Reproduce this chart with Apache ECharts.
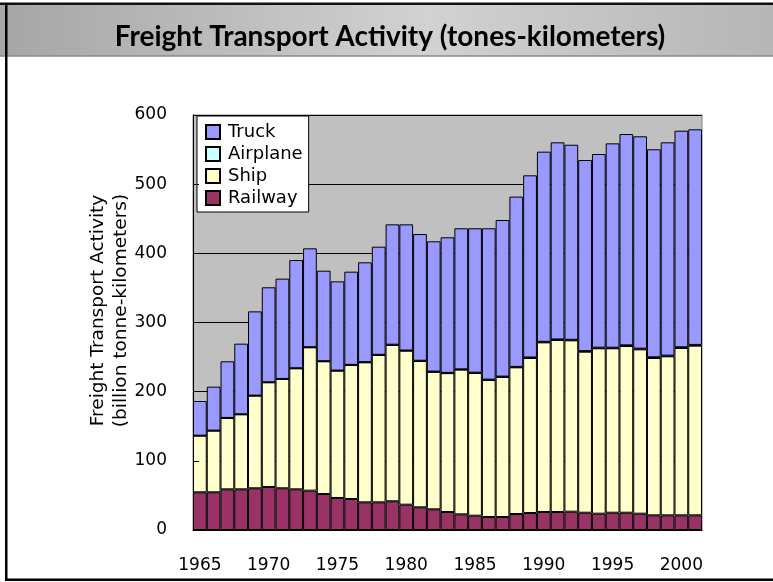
<!DOCTYPE html>
<html>
<head>
<meta charset="utf-8">
<title>Freight Transport Activity</title>
<script src="https://cdn.jsdelivr.net/npm/echarts@6/dist/echarts.min.js"></script>
<style>
    html, body { margin: 0; padding: 0; background: #fff; overflow: hidden; }
    #chart { width: 773px; height: 582px; }
</style>
</head>
<body>
<div id="chart"></div>
<script>
// values, billion tonne-kilometers
const years = ['1965', '1966', '1967', '1968', '1969', '1970', '1971', '1972', '1973', '1974',
    '1975', '1976', '1977', '1978', '1979', '1980', '1981', '1982', '1983', '1984',
    '1985', '1986', '1987', '1988', '1989', '1990', '1991', '1992', '1993', '1994',
    '1995', '1996', '1997', '1998', '1999', '2000', '2001'];

const railway = [54.5, 54.5, 58.8, 58.8, 60.3, 62.2, 60.3, 58.8, 56.9, 52.0,
    46.3, 44.8, 40.0, 40.0, 41.5, 36.6, 32.8, 29.9, 26.0, 22.6,
    20.7, 18.8, 18.8, 23.1, 24.6, 26.0, 26.0, 26.5, 25.0, 23.6,
    25.0, 25.0, 23.6, 21.2, 21.2, 21.2, 21.2];

const ship = [81.9, 89.1, 103.1, 108.4, 133.9, 151.3, 158.0, 174.9, 207.2, 191.9,
    184.0, 193.7, 202.4, 213.0, 226.0, 222.6, 211.5, 198.7, 200.8, 209.2,
    206.3, 198.1, 202.4, 212.1, 224.1, 245.3, 248.7, 247.7, 232.8, 239.1,
    237.7, 241.0, 237.6, 227.5, 229.9, 241.9, 245.3];

const airplane = [0.0, 0.1, 0.1, 0.1, 0.1, 0.1, 0.1, 0.2, 0.2, 0.2,
    0.2, 0.3, 0.3, 0.3, 0.4, 0.3, 0.4, 0.4, 0.4, 0.5,
    0.5, 0.5, 0.6, 0.6, 0.7, 0.8, 0.8, 0.8, 0.8, 0.9,
    0.9, 1.0, 1.0, 1.0, 1.0, 1.1, 1.1];

const truck = [50.1, 63.5, 81.9, 102.1, 121.8, 137.3, 145.0, 156.4, 142.9, 130.8,
    129.0, 134.7, 144.3, 156.3, 174.0, 182.4, 183.2, 188.4, 196.0, 203.9,
    208.7, 218.8, 226.4, 246.2, 263.4, 274.9, 285.0, 282.0, 276.3, 280.0,
    295.4, 305.5, 307.0, 300.7, 308.4, 313.1, 311.7];

const yTicks = { min: 0, max: 600, step: 100 };

const font = 'DejaVu Sans';

const barSeries = (name, data, color) => ({
    name,
    type: 'bar',
    stack: 'total',
    data,
    barCategoryGap: '0%',
    itemStyle: { color, borderColor: '#000', borderWidth: 1 }
});

const chart = echarts.init(document.getElementById('chart'));

chart.setOption({
    animation: false,
    backgroundColor: '#fff',
    textStyle: { fontFamily: font, color: '#000' },
    grid: {
        left: 193, right: 71, top: 115, bottom: 52,
        show: true,
        backgroundColor: '#c0c0c0',
        borderColor: '#808080',
        borderWidth: 1
    },
    legend: {
        orient: 'vertical',
        left: 197,
        top: 116,
        data: ['Truck', 'Airplane', 'Ship', 'Railway'],
        icon: 'rect',
        itemWidth: 14,
        itemHeight: 14,
        itemGap: 4,
        padding: [7, 6, 5, 8],
        backgroundColor: '#fff',
        borderColor: '#000',
        borderWidth: 1,
        borderRadius: 0,
        textStyle: { fontFamily: font, fontSize: 18, color: '#000', lineHeight: 18, padding: [0, 0, 0, 3] }
    },
    xAxis: {
        type: 'category',
        data: years,
        axisLine: { lineStyle: { color: '#000', width: 1 } },
        axisTick: { show: false },
        axisLabel: {
            interval: (i, v) => Number(v) % 5 === 0,
            margin: 27,
            fontFamily: font,
            fontSize: 17,
            color: '#000'
        },
        splitLine: { show: false }
    },
    yAxis: [{
        type: 'value',
        min: yTicks.min,
        max: yTicks.max,
        interval: yTicks.step,
        name: 'Freight Transport Activity\n(billion tonne-kilometers)',
        nameLocation: 'middle',
        nameRotate: 90,
        nameGap: 60,
        nameMoveOverlap: false,
        nameTextStyle: {
            fontFamily: font, fontSize: 18.5, lineHeight: 23.5, color: '#000',
            padding: [0, 0, 0, 24]
        },
        axisLine: { show: true, lineStyle: { color: '#000', width: 1 } },
        axisTick: { show: false },
        axisLabel: { margin: 26, fontFamily: font, fontSize: 17, color: '#000' },
        splitLine: { lineStyle: { color: '#000', width: 1 } }
    }, {
        // tick marks drawn over the bars, like the original
        type: 'value',
        position: 'left',
        min: yTicks.min,
        max: yTicks.max,
        interval: yTicks.step,
        z: 5,
        axisLine: { show: true, lineStyle: { color: '#000', width: 1 } },
        axisTick: { show: true, inside: true, length: 6, lineStyle: { color: '#000' } },
        axisLabel: { show: false },
        splitLine: { show: false }
    }],
    series: [
        barSeries('Railway', railway, '#993366'),
        barSeries('Ship', ship, '#ffffcc'),
        barSeries('Airplane', airplane, '#ccffff'),
        barSeries('Truck', truck, '#9999ff')
    ],
    graphic: [
        {
            type: 'rect',
            shape: { x: 0, y: 5, width: 773, height: 51 },
            style: {
                fill: new echarts.graphic.LinearGradient(0, 0, 1, 0, [
                    { offset: 0, color: '#a6a6a6' },
                    { offset: 0.3, color: '#bdbdbd' },
                    { offset: 0.55, color: '#d2d2d2' },
                    { offset: 0.8, color: '#c2c2c2' },
                    { offset: 1, color: '#b6b6b6' }
                ])
            },
            silent: true
        },
        {
            type: 'line',
            shape: { x1: 0, y1: 56, x2: 773, y2: 56 },
            style: { stroke: '#8a8a8a', lineWidth: 1.5 },
            silent: true
        },
        {
            type: 'rect',
            shape: { x: 0, y: 2.5, width: 773, height: 2.5 },
            style: { fill: '#111' },
            silent: true
        },
        {
            type: 'rect',
            shape: { x: 5, y: 3, width: 2.5, height: 578 },
            style: { fill: '#000' },
            silent: true
        },
        {
            type: 'rect',
            shape: { x: 5, y: 578.5, width: 768, height: 2.5 },
            style: { fill: '#000' },
            silent: true
        },
        {
            type: 'text',
            x: 390,
            y: 37,
            style: {
                text: 'Freight Transport Activity (tones-kilometers)',
                fontFamily: 'Lato',
                fontWeight: 'bold',
                fontSize: 28,
                fill: '#000',
                align: 'center',
                verticalAlign: 'middle'
            },
            silent: true
        }
    ]
});
</script>
</body>
</html>
